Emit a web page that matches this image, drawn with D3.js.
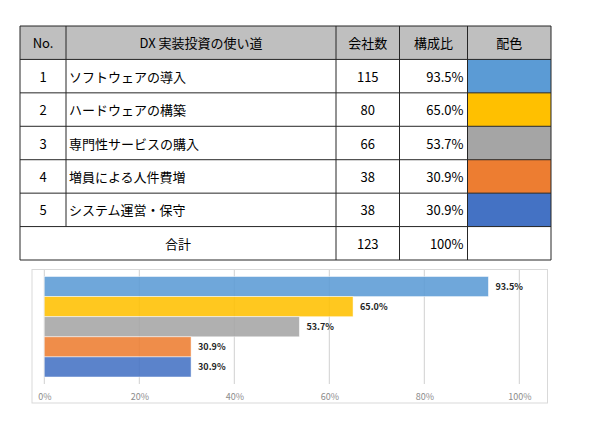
<!DOCTYPE html>
<html>
<head>
<meta charset="utf-8">
<script src="https://cdn.jsdelivr.net/npm/d3@7"></script>
<style>
  body { margin: 0; background: #fff; }
  text { font-family: "Noto Sans CJK JP", "Noto Sans", sans-serif; }
</style>
</head>
<body>
<div id="chart"></div>
<script>
  // データ
  var nos = [1, 2, 3, 4, 5];
  var uses = ['ソフトウェアの導入', 'ハードウェアの構築', '専門性サービスの購入', '増員による人件費増', 'システム運営・保守'];
  var counts = [115, 80, 66, 38, 38];
  var shares = [93.5, 65.0, 53.7, 30.9, 30.9];
  var colors = ['#5b9bd5', '#ffc000', '#a5a5a5', '#ed7d31', '#4472c4'];
  var headers = ['No.', 'DX 実装投資の使い道', '会社数', '構成比', '配色'];
  var totalLabel = '合計';
  var totalCount = 123;
  var totalShare = '100%';
  var xTicks = [0, 20, 40, 60, 80, 100];

  var svg = d3.select('#chart')
      .append('svg')
      .attr('width', 590)
      .attr('height', 428);

  // 表
  var colEdges = [20, 66, 336, 399.5, 467.5, 551];
  var rowKeys = ['head'].concat(nos).concat(['total']);
  var rowY = d3.scaleBand()
      .domain(rowKeys)
      .range([26, 260]);
  var rh = rowY.bandwidth();
  var fs = 13;

  // ヘッダー背景
  svg.append('rect')
      .attr('x', colEdges[0]).attr('y', rowY('head'))
      .attr('width', colEdges[5] - colEdges[0]).attr('height', rh)
      .attr('fill', '#bfbfbf');

  // 配色セル
  svg.selectAll('.swatch')
      .data(nos)
      .enter().append('rect')
      .attr('class', 'swatch')
      .attr('x', colEdges[4])
      .attr('y', function(d) { return rowY(d); })
      .attr('width', colEdges[5] - colEdges[4])
      .attr('height', rh)
      .attr('fill', function(d, i) { return colors[i]; });

  // 罫線
  var lines = svg.append('g').attr('stroke', '#262626').attr('stroke-width', 1);
  rowKeys.concat(['end']).forEach(function(k) {
      var y = k === 'end' ? 260 : rowY(k);
      lines.append('line').attr('x1', 20).attr('x2', 551).attr('y1', y).attr('y2', y);
  });
  colEdges.forEach(function(x, i) {
      var y2 = (i === 1) ? rowY('total') : 260;
      lines.append('line').attr('x1', x).attr('x2', x).attr('y1', 26).attr('y2', y2);
  });

  function cx(i) { return (colEdges[i] + colEdges[i + 1]) / 2; }
  var tbl = svg.append('g').attr('font-size', fs).attr('fill', '#000').attr('dominant-baseline', 'central');

  headers.forEach(function(h, i) {
      tbl.append('text').attr('x', cx(i)).attr('y', rowY('head') + rh / 2)
          .attr('text-anchor', 'middle').text(h);
  });

  nos.forEach(function(n, i) {
      var y = rowY(n) + rh / 2;
      tbl.append('text').attr('x', cx(0)).attr('y', y).attr('text-anchor', 'middle').text(n);
      tbl.append('text').attr('x', colEdges[1] + 3).attr('y', y).text(uses[i]);
      tbl.append('text').attr('x', cx(2)).attr('y', y).attr('text-anchor', 'middle').text(counts[i]);
      tbl.append('text').attr('x', colEdges[4] - 4).attr('y', y).attr('text-anchor', 'end')
          .text(shares[i].toFixed(1) + '%');
  });

  var ty = rowY('total') + rh / 2;
  tbl.append('text').attr('x', (colEdges[0] + colEdges[2]) / 2).attr('y', ty).attr('text-anchor', 'middle').text(totalLabel);
  tbl.append('text').attr('x', cx(2)).attr('y', ty).attr('text-anchor', 'middle').text(totalCount);
  tbl.append('text').attr('x', colEdges[4] - 4).attr('y', ty).attr('text-anchor', 'end').text(totalShare);

  // グラフ
  svg.append('rect')
      .attr('x', 32).attr('y', 269.5)
      .attr('width', 515.5).attr('height', 133.5)
      .attr('fill', '#fff')
      .attr('stroke', '#d9d9d9');

  var x = d3.scaleLinear()
      .domain([0, 100])
      .range([44.3, 519.3]);

  var y = d3.scaleBand()
      .domain(nos)
      .range([276.5, 377])
      .padding(0);

  // グリッド線
  svg.append('g')
      .selectAll('line')
      .data(xTicks)
      .enter().append('line')
      .attr('x1', function(d) { return x(d); })
      .attr('x2', function(d) { return x(d); })
      .attr('y1', 270)
      .attr('y2', 384)
      .attr('stroke', '#d0d0d0')
      .attr('stroke-width', 1);

  // 軸ラベル
  var axis = svg.append('g')
      .attr('transform', 'translate(0,397)')
      .call(d3.axisBottom(x).tickValues(xTicks).tickSize(0).tickFormat(function(d) { return d + '%'; }));
  axis.select('.domain').remove();
  axis.selectAll('text')
      .attr('y', 0)
      .attr('dy', '0.32em')
      .attr('fill', '#8c8c8c')
      .attr('font-size', 9)
      .attr('font-family', '"Liberation Sans", "DejaVu Sans", sans-serif');

  // バー
  svg.selectAll('.bar')
      .data(nos)
      .enter().append('rect')
      .attr('class', 'bar')
      .attr('x', x(0))
      .attr('y', function(d) { return y(d); })
      .attr('width', function(d, i) { return x(shares[i]) - x(0); })
      .attr('height', y.bandwidth())
      .attr('fill', function(d, i) { return colors[i]; })
      .attr('fill-opacity', 0.88)
      .attr('stroke', '#fff')
      .attr('stroke-opacity', 0.6)
      .attr('stroke-width', 0.8);

  // ラベル
  svg.selectAll('.lbl')
      .data(nos)
      .enter().append('text')
      .attr('class', 'lbl')
      .attr('x', function(d, i) { return x(shares[i]) + 7; })
      .attr('y', function(d) { return y(d) + y.bandwidth() / 2; })
      .attr('dominant-baseline', 'central')
      .attr('font-size', 9)
      .attr('font-weight', 'bold')
      .attr('fill', '#262626')
      .attr('font-family', '"Liberation Sans", "DejaVu Sans", sans-serif')
      .text(function(d, i) { return shares[i].toFixed(1) + '%'; });
</script>
</body>
</html>
